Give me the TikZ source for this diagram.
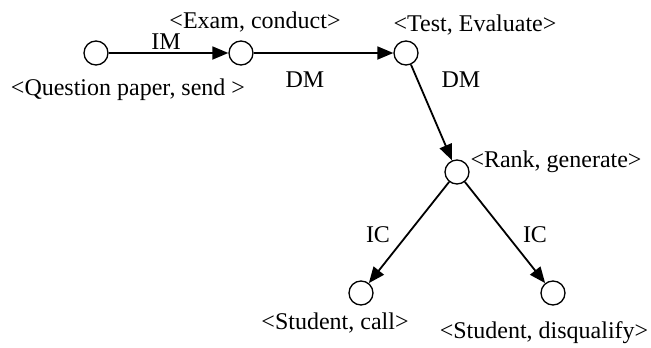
\documentclass[tikz,border=0pt]{standalone}
\usepackage{fontspec}
\setmainfont{Liberation Serif}
\usetikzlibrary{arrows.meta}

\tikzset{
  state/.style={draw, circle, line width=1.3pt, minimum size=24pt, inner sep=0pt},
  flow/.style={-{Triangle[length=16pt,width=13pt]}, line width=1.8pt},
  tag/.style={font=\fontsize{24}{26}\selectfont, inner sep=0pt}
}

\begin{document}
\begin{tikzpicture}[x=1pt,y=-1pt]
		\useasboundingbox (0,0) rectangle (651,348);
		%%%%% states %%%%%
		\node[state] (send) at (96, 53) {};
		\node[state] (conduct) at (241, 53) {};
		\node[state] (evaluate) at (406, 53) {};
		\node[state] (generate) at (457, 172) {};
		\node[state] (call) at (361, 293) {};
		\node[state] (disqualify) at (553, 293) {};
		
		%%%%% labels %%%%%
		\node[tag] (l-send) at (128, 90) {<Question paper, send >};
		\node[tag] (l-conduct) at (255, 22) {<Exam, conduct>};
		\node[tag] (l-evaluate) at (475, 25) {<Test, Evaluate>};
		\node[tag] (l-generate) at (556, 162) {<Rank, generate>};
		\node[tag] (l-call) at (335, 323) {<Student, call>};
		\node[tag] (l-disqualify) at (544, 333) {<Student, disqualify>};
		
		%%%%% flows %%%%%
		\draw[flow] (send) -- (conduct);
		\draw[flow] (conduct) -- (evaluate);
		\draw[flow] (evaluate) -- (generate);
		\draw[flow] (generate) -- (call);
		\draw[flow] (generate) -- (disqualify);
		
		\node[tag] (im) at (166, 42) {IM};
		\node[tag] (dm1) at (305, 80) {DM};
		\node[tag] (dm2) at (461, 80) {DM};
		\node[tag] (ic1) at (378, 235) {IC};
		\node[tag] (ic2) at (535, 235) {IC};
	\end{tikzpicture}
\end{document}
